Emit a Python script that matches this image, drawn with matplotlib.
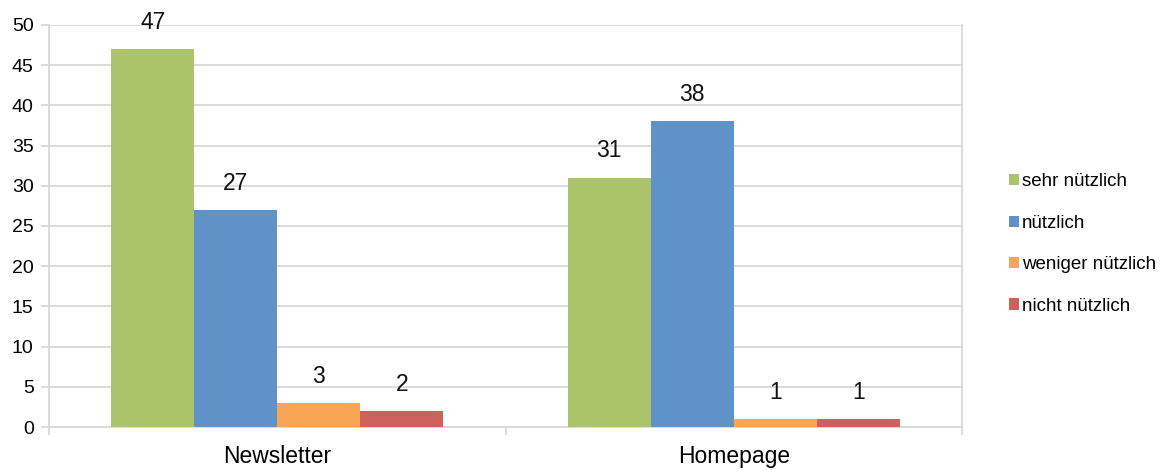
import numpy as np
import matplotlib.pyplot as plt
from matplotlib.patches import Patch

categories = ["Newsletter", "Homepage"]
series = ["sehr nützlich", "nützlich", "weniger nützlich", "nicht nützlich"]
sehr_nuetzlich = [47, 31]
nuetzlich = [27, 38]
weniger_nuetzlich = [3, 1]
nicht_nuetzlich = [2, 1]
colors = ["#abc46c", "#5f93c7", "#f8a655", "#cd625c"]

plt.rcParams["font.family"] = ["Liberation Sans", "DejaVu Sans"]

fig = plt.figure(figsize=(11.65, 4.7), dpi=100)
ax = fig.add_axes([49 / 1165, 1 - 427 / 470, (962 - 49) / 1165, (427 - 25) / 470])

values = [sehr_nuetzlich, nuetzlich, weniger_nuetzlich, nicht_nuetzlich]
x = np.arange(len(categories))
w = 0.182
for i, (vals, c) in enumerate(zip(values, colors)):
    pos = x + (i - 1.5) * w
    bars = ax.bar(pos, vals, width=w, color=c, zorder=3)
    for b, v in zip(bars, vals):
        ax.annotate(str(v), (b.get_x() + b.get_width() / 2, v),
                    xytext=(0, 11), textcoords="offset points",
                    ha="center", va="bottom", fontsize=16.5, color="#111111")

ax.set_xlim(-0.5, 1.5)
ax.set_ylim(0, 50)
ax.set_yticks(range(0, 51, 5))
ax.grid(axis="y", color="#d9d9d9", linewidth=1.3, zorder=0)
ax.set_xticks([-0.5, 0.5, 1.5], minor=False)
ax.set_xticklabels([])
ax.set_xticks(x, minor=True)
ax.set_xticklabels(categories, minor=True, fontsize=16.5)
ax.tick_params(axis="x", which="minor", length=0, pad=13)
ax.tick_params(axis="x", which="major", length=6, color="#d9d9d9", width=1.3, direction="out")
ax.tick_params(axis="y", length=6, color="#d9d9d9", width=1.3, labelsize=14, pad=5)
for s in ["left", "bottom", "right"]:
    ax.spines[s].set_color("#d9d9d9")
    ax.spines[s].set_linewidth(1.3)
ax.spines["top"].set_visible(False)

handles = [Patch(facecolor=c, label=s) for s, c in zip(series, colors)]
fig.legend(handles=handles, loc="center left", bbox_to_anchor=(992 / 1165, 1 - 244 / 470),
           frameon=False, fontsize=13.5, handlelength=0.55, handleheight=0.55,
           handletextpad=0.15, labelspacing=1.3)

fig.savefig("out.png", dpi=100)
